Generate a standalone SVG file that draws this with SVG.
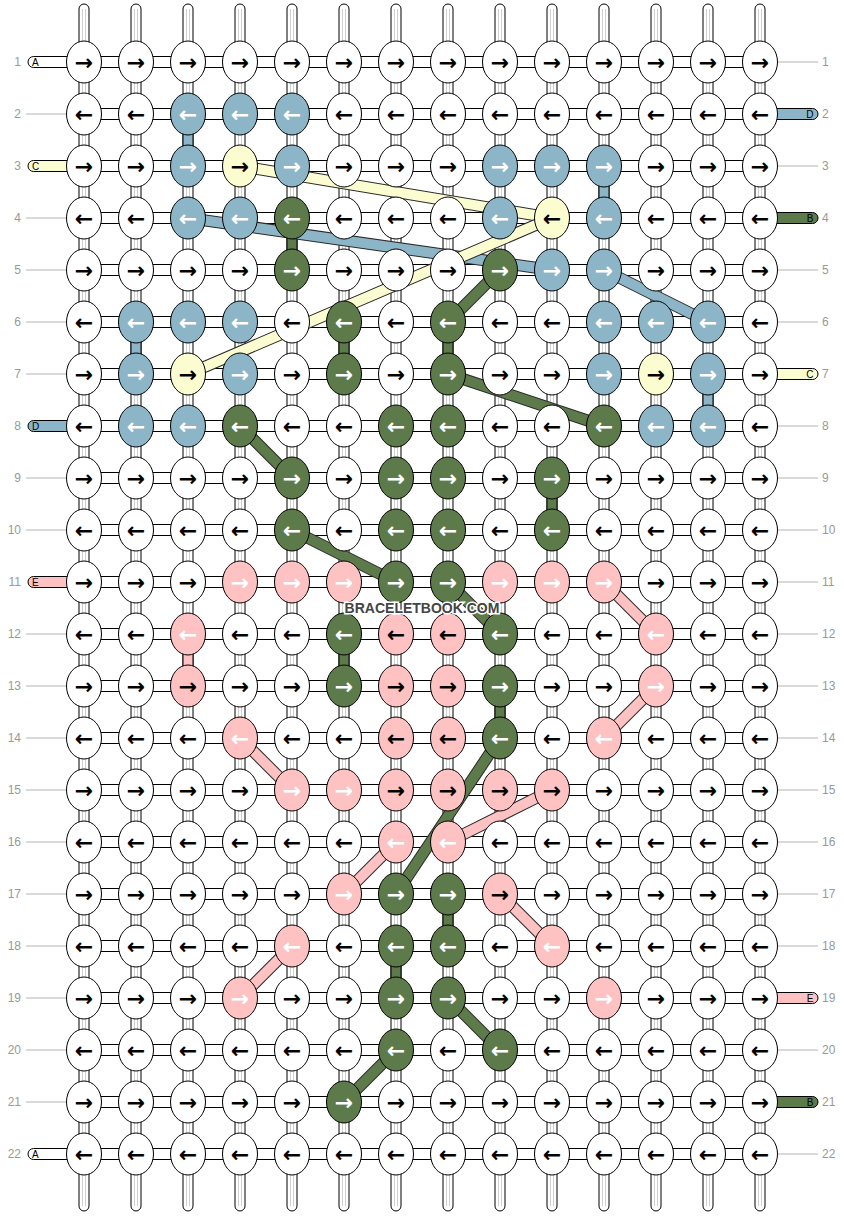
<svg xmlns="http://www.w3.org/2000/svg" xmlns:xlink="http://www.w3.org/1999/xlink" width="844" height="1216" viewBox="0 0 844 1216">
<style>
.w{fill:#fff}.b{fill:#8cb5c7}.g{fill:#5d7a4a}.y{fill:#fbfdd0}.p{fill:#ffc2c2}
.a{font:bold 22px "DejaVu Sans",sans-serif;text-anchor:middle;fill:#000}
.aw{fill:#fff}
.s{stroke:#000;stroke-width:1}
.gl{stroke:#cfcfcf;stroke-width:1}
.n{font:12px "Liberation Sans",Arial,sans-serif;fill:#999}
.ne{text-anchor:end}
.t{font:10px "Liberation Sans",Arial,sans-serif;fill:#000}
.ln{stroke:#b4b4b4;stroke-width:1}
.bo{stroke:#2a2a2a;stroke-width:12}
.bb{stroke:#8cb5c7;stroke-width:10}.bg{stroke:#5d7a4a;stroke-width:10}.by{stroke:#fbfdd0;stroke-width:10}.bp{stroke:#ffc2c2;stroke-width:10}
.wm{font:bold 14px "Liberation Sans",Arial,sans-serif;fill:#444;stroke:#fff;stroke-width:3;paint-order:stroke;text-anchor:middle}
</style>
<defs>
<ellipse id="e" rx="17.5" ry="21" stroke="#000" stroke-width="1"/>
<g id="vs"><rect x="-5" y="4" width="10" height="1207" rx="5" fill="#fff" stroke="#000"/><path d="M-1.5 9V1206M1.5 9V1206" class="gl"/></g>
</defs>
<g id="connectors">
<g id="verticals">
<use href="#vs" x="84"/><use href="#vs" x="136"/><use href="#vs" x="188"/><use href="#vs" x="240"/><use href="#vs" x="292"/><use href="#vs" x="344"/><use href="#vs" x="396"/><use href="#vs" x="448"/><use href="#vs" x="500"/><use href="#vs" x="552"/><use href="#vs" x="604"/><use href="#vs" x="656"/><use href="#vs" x="708"/><use href="#vs" x="760"/>
</g>
<g id="horizontals" class="w s">
<rect x="84" y="56.5" width="676" height="11"/><rect x="84" y="108.5" width="676" height="11"/><rect x="84" y="160.5" width="676" height="11"/><rect x="84" y="212.5" width="676" height="11"/><rect x="84" y="264.5" width="676" height="11"/><rect x="84" y="316.5" width="676" height="11"/><rect x="84" y="368.5" width="676" height="11"/><rect x="84" y="420.5" width="676" height="11"/><rect x="84" y="472.5" width="676" height="11"/><rect x="84" y="524.5" width="676" height="11"/><rect x="84" y="576.5" width="676" height="11"/><rect x="84" y="628.5" width="676" height="11"/><rect x="84" y="680.5" width="676" height="11"/><rect x="84" y="732.5" width="676" height="11"/><rect x="84" y="784.5" width="676" height="11"/><rect x="84" y="836.5" width="676" height="11"/><rect x="84" y="888.5" width="676" height="11"/><rect x="84" y="940.5" width="676" height="11"/><rect x="84" y="992.5" width="676" height="11"/><rect x="84" y="1044.5" width="676" height="11"/><rect x="84" y="1096.5" width="676" height="11"/><rect x="84" y="1148.5" width="676" height="11"/>
</g>
<g id="tails" class="s">
<path class="w" d="M70 56.5H33.5a5.5 5.5 0 0 0 0 11H70Z"/>
<path class="y" d="M70 160.5H33.5a5.5 5.5 0 0 0 0 11H70Z"/>
<path class="b" d="M70 420.5H33.5a5.5 5.5 0 0 0 0 11H70Z"/>
<path class="p" d="M70 576.5H33.5a5.5 5.5 0 0 0 0 11H70Z"/>
<path class="w" d="M70 1148.5H33.5a5.5 5.5 0 0 0 0 11H70Z"/>
<path class="b" d="M774 108.5H812.5a5.5 5.5 0 0 1 0 11H774Z"/>
<path class="g" d="M774 212.5H812.5a5.5 5.5 0 0 1 0 11H774Z"/>
<path class="y" d="M774 368.5H812.5a5.5 5.5 0 0 1 0 11H774Z"/>
<path class="p" d="M774 992.5H812.5a5.5 5.5 0 0 1 0 11H774Z"/>
<path class="g" d="M774 1096.5H812.5a5.5 5.5 0 0 1 0 11H774Z"/>
</g>
<g id="tail-letters" class="t">
<text x="32" y="66">A</text><text x="32" y="170">C</text><text x="32" y="430">D</text><text x="32" y="586">E</text><text x="32" y="1158">A</text>
<text x="813.5" y="118" text-anchor="end">D</text><text x="813.5" y="222" text-anchor="end">B</text><text x="813.5" y="378" text-anchor="end">C</text><text x="813.5" y="1002" text-anchor="end">E</text><text x="813.5" y="1106" text-anchor="end">B</text>
</g>
<path id="rowlines" class="ln" d="M26 114H66M26 218H66M26 270H66M26 322H66M26 374H66M26 478H66M26 530H66M26 634H66M26 686H66M26 738H66M26 790H66M26 842H66M26 894H66M26 946H66M26 998H66M26 1050H66M26 1102H66M778 62H818M778 166H818M778 270H818M778 322H818M778 426H818M778 478H818M778 530H818M778 582H818M778 634H818M778 686H818M778 738H818M778 790H818M778 842H818M778 894H818M778 946H818M778 1050H818M778 1154H818"/>
<g id="straight" class="s">
<rect class="b" x="183" y="114" width="10" height="52"/>
<rect class="b" x="599" y="166" width="10" height="52"/>
<rect class="g" x="287" y="218" width="10" height="52"/>
<rect class="b" x="131" y="322" width="10" height="52"/>
<rect class="g" x="339" y="322" width="10" height="52"/>
<rect class="g" x="443" y="322" width="10" height="52"/>
<rect class="b" x="703" y="374" width="10" height="52"/>
<rect class="g" x="547" y="478" width="10" height="52"/>
<rect class="p" x="183" y="634" width="10" height="52"/>
<rect class="g" x="339" y="634" width="10" height="52"/>
<rect class="g" x="495" y="686" width="10" height="52"/>
<rect class="g" x="443" y="894" width="10" height="52"/>
<rect class="g" x="391" y="946" width="10" height="52"/>
</g>
<g id="bands">
<line class="bo" x1="240" y1="166" x2="552" y2="218"/><line class="by" x1="240" y1="166" x2="552" y2="218"/>
<line class="bo" x1="188" y1="218" x2="552" y2="270"/><line class="bb" x1="188" y1="218" x2="552" y2="270"/>
<line class="bo" x1="552" y1="218" x2="188" y2="374"/><line class="by" x1="552" y1="218" x2="188" y2="374"/>
<line class="bo" x1="604" y1="270" x2="708" y2="322"/><line class="bb" x1="604" y1="270" x2="708" y2="322"/>
<line class="bo" x1="500" y1="270" x2="448" y2="322"/><line class="bg" x1="500" y1="270" x2="448" y2="322"/>
<line class="bo" x1="448" y1="374" x2="604" y2="426"/><line class="bg" x1="448" y1="374" x2="604" y2="426"/>
<line class="bo" x1="240" y1="426" x2="292" y2="478"/><line class="bg" x1="240" y1="426" x2="292" y2="478"/>
<line class="bo" x1="292" y1="530" x2="396" y2="582"/><line class="bg" x1="292" y1="530" x2="396" y2="582"/>
<line class="bo" x1="448" y1="582" x2="500" y2="634"/><line class="bg" x1="448" y1="582" x2="500" y2="634"/>
<line class="bo" x1="500" y1="738" x2="396" y2="894"/><line class="bg" x1="500" y1="738" x2="396" y2="894"/>
<line class="bo" x1="448" y1="998" x2="500" y2="1050"/><line class="bg" x1="448" y1="998" x2="500" y2="1050"/>
<line class="bo" x1="396" y1="1050" x2="344" y2="1102"/><line class="bg" x1="396" y1="1050" x2="344" y2="1102"/>
<line class="bo" x1="604" y1="582" x2="656" y2="634"/><line class="bp" x1="604" y1="582" x2="656" y2="634"/>
<line class="bo" x1="656" y1="686" x2="604" y2="738"/><line class="bp" x1="656" y1="686" x2="604" y2="738"/>
<line class="bo" x1="240" y1="738" x2="292" y2="790"/><line class="bp" x1="240" y1="738" x2="292" y2="790"/>
<line class="bo" x1="552" y1="790" x2="448" y2="842"/><line class="bp" x1="552" y1="790" x2="448" y2="842"/>
<line class="bo" x1="396" y1="842" x2="344" y2="894"/><line class="bp" x1="396" y1="842" x2="344" y2="894"/>
<line class="bo" x1="500" y1="894" x2="552" y2="946"/><line class="bp" x1="500" y1="894" x2="552" y2="946"/>
<line class="bo" x1="292" y1="946" x2="240" y2="998"/><line class="bp" x1="292" y1="946" x2="240" y2="998"/>
</g>
</g>
<g id="row-numbers" class="n">
<text class="n ne" x="21" y="66">1</text><text class="n ne" x="21" y="118">2</text><text class="n ne" x="21" y="170">3</text><text class="n ne" x="21" y="222">4</text><text class="n ne" x="21" y="274">5</text><text class="n ne" x="21" y="326">6</text><text class="n ne" x="21" y="378">7</text><text class="n ne" x="21" y="430">8</text><text class="n ne" x="21" y="482">9</text><text class="n ne" x="21" y="534">10</text><text class="n ne" x="21" y="586">11</text><text class="n ne" x="21" y="638">12</text><text class="n ne" x="21" y="690">13</text><text class="n ne" x="21" y="742">14</text><text class="n ne" x="21" y="794">15</text><text class="n ne" x="21" y="846">16</text><text class="n ne" x="21" y="898">17</text><text class="n ne" x="21" y="950">18</text><text class="n ne" x="21" y="1002">19</text><text class="n ne" x="21" y="1054">20</text><text class="n ne" x="21" y="1106">21</text><text class="n ne" x="21" y="1158">22</text>
<text x="822" y="66">1</text><text x="822" y="118">2</text><text x="822" y="170">3</text><text x="822" y="222">4</text><text x="822" y="274">5</text><text x="822" y="326">6</text><text x="822" y="378">7</text><text x="822" y="430">8</text><text x="822" y="482">9</text><text x="822" y="534">10</text><text x="822" y="586">11</text><text x="822" y="638">12</text><text x="822" y="690">13</text><text x="822" y="742">14</text><text x="822" y="794">15</text><text x="822" y="846">16</text><text x="822" y="898">17</text><text x="822" y="950">18</text><text x="822" y="1002">19</text><text x="822" y="1054">20</text><text x="822" y="1106">21</text><text x="822" y="1158">22</text>
</g>
<g id="knots">
<g id="k1-1" transform="translate(84,62)"><use href="#e" class="w"/><text class="a" y="7.5">→</text></g>
<g id="k1-2" transform="translate(136,62)"><use href="#e" class="w"/><text class="a" y="7.5">→</text></g>
<g id="k1-3" transform="translate(188,62)"><use href="#e" class="w"/><text class="a" y="7.5">→</text></g>
<g id="k1-4" transform="translate(240,62)"><use href="#e" class="w"/><text class="a" y="7.5">→</text></g>
<g id="k1-5" transform="translate(292,62)"><use href="#e" class="w"/><text class="a" y="7.5">→</text></g>
<g id="k1-6" transform="translate(344,62)"><use href="#e" class="w"/><text class="a" y="7.5">→</text></g>
<g id="k1-7" transform="translate(396,62)"><use href="#e" class="w"/><text class="a" y="7.5">→</text></g>
<g id="k1-8" transform="translate(448,62)"><use href="#e" class="w"/><text class="a" y="7.5">→</text></g>
<g id="k1-9" transform="translate(500,62)"><use href="#e" class="w"/><text class="a" y="7.5">→</text></g>
<g id="k1-10" transform="translate(552,62)"><use href="#e" class="w"/><text class="a" y="7.5">→</text></g>
<g id="k1-11" transform="translate(604,62)"><use href="#e" class="w"/><text class="a" y="7.5">→</text></g>
<g id="k1-12" transform="translate(656,62)"><use href="#e" class="w"/><text class="a" y="7.5">→</text></g>
<g id="k1-13" transform="translate(708,62)"><use href="#e" class="w"/><text class="a" y="7.5">→</text></g>
<g id="k1-14" transform="translate(760,62)"><use href="#e" class="w"/><text class="a" y="7.5">→</text></g>

<g id="k2-1" transform="translate(84,114)"><use href="#e" class="w"/><text class="a" y="7.5">←</text></g>
<g id="k2-2" transform="translate(136,114)"><use href="#e" class="w"/><text class="a" y="7.5">←</text></g>
<g id="k2-3" transform="translate(188,114)"><use href="#e" class="b"/><text class="a aw" y="7.5">←</text></g>
<g id="k2-4" transform="translate(240,114)"><use href="#e" class="b"/><text class="a aw" y="7.5">←</text></g>
<g id="k2-5" transform="translate(292,114)"><use href="#e" class="b"/><text class="a aw" y="7.5">←</text></g>
<g id="k2-6" transform="translate(344,114)"><use href="#e" class="w"/><text class="a" y="7.5">←</text></g>
<g id="k2-7" transform="translate(396,114)"><use href="#e" class="w"/><text class="a" y="7.5">←</text></g>
<g id="k2-8" transform="translate(448,114)"><use href="#e" class="w"/><text class="a" y="7.5">←</text></g>
<g id="k2-9" transform="translate(500,114)"><use href="#e" class="w"/><text class="a" y="7.5">←</text></g>
<g id="k2-10" transform="translate(552,114)"><use href="#e" class="w"/><text class="a" y="7.5">←</text></g>
<g id="k2-11" transform="translate(604,114)"><use href="#e" class="w"/><text class="a" y="7.5">←</text></g>
<g id="k2-12" transform="translate(656,114)"><use href="#e" class="w"/><text class="a" y="7.5">←</text></g>
<g id="k2-13" transform="translate(708,114)"><use href="#e" class="w"/><text class="a" y="7.5">←</text></g>
<g id="k2-14" transform="translate(760,114)"><use href="#e" class="w"/><text class="a" y="7.5">←</text></g>

<g id="k3-1" transform="translate(84,166)"><use href="#e" class="w"/><text class="a" y="7.5">→</text></g>
<g id="k3-2" transform="translate(136,166)"><use href="#e" class="w"/><text class="a" y="7.5">→</text></g>
<g id="k3-3" transform="translate(188,166)"><use href="#e" class="b"/><text class="a aw" y="7.5">→</text></g>
<g id="k3-4" transform="translate(240,166)"><use href="#e" class="y"/><text class="a" y="7.5">→</text></g>
<g id="k3-5" transform="translate(292,166)"><use href="#e" class="b"/><text class="a aw" y="7.5">→</text></g>
<g id="k3-6" transform="translate(344,166)"><use href="#e" class="w"/><text class="a" y="7.5">→</text></g>
<g id="k3-7" transform="translate(396,166)"><use href="#e" class="w"/><text class="a" y="7.5">→</text></g>
<g id="k3-8" transform="translate(448,166)"><use href="#e" class="w"/><text class="a" y="7.5">→</text></g>
<g id="k3-9" transform="translate(500,166)"><use href="#e" class="b"/><text class="a aw" y="7.5">→</text></g>
<g id="k3-10" transform="translate(552,166)"><use href="#e" class="b"/><text class="a aw" y="7.5">→</text></g>
<g id="k3-11" transform="translate(604,166)"><use href="#e" class="b"/><text class="a aw" y="7.5">→</text></g>
<g id="k3-12" transform="translate(656,166)"><use href="#e" class="w"/><text class="a" y="7.5">→</text></g>
<g id="k3-13" transform="translate(708,166)"><use href="#e" class="w"/><text class="a" y="7.5">→</text></g>
<g id="k3-14" transform="translate(760,166)"><use href="#e" class="w"/><text class="a" y="7.5">→</text></g>

<g id="k4-1" transform="translate(84,218)"><use href="#e" class="w"/><text class="a" y="7.5">←</text></g>
<g id="k4-2" transform="translate(136,218)"><use href="#e" class="w"/><text class="a" y="7.5">←</text></g>
<g id="k4-3" transform="translate(188,218)"><use href="#e" class="b"/><text class="a aw" y="7.5">←</text></g>
<g id="k4-4" transform="translate(240,218)"><use href="#e" class="b"/><text class="a aw" y="7.5">←</text></g>
<g id="k4-5" transform="translate(292,218)"><use href="#e" class="g"/><text class="a aw" y="7.5">←</text></g>
<g id="k4-6" transform="translate(344,218)"><use href="#e" class="w"/><text class="a" y="7.5">←</text></g>
<g id="k4-7" transform="translate(396,218)"><use href="#e" class="w"/><text class="a" y="7.5">←</text></g>
<g id="k4-8" transform="translate(448,218)"><use href="#e" class="w"/><text class="a" y="7.5">←</text></g>
<g id="k4-9" transform="translate(500,218)"><use href="#e" class="b"/><text class="a aw" y="7.5">←</text></g>
<g id="k4-10" transform="translate(552,218)"><use href="#e" class="y"/><text class="a" y="7.5">←</text></g>
<g id="k4-11" transform="translate(604,218)"><use href="#e" class="b"/><text class="a aw" y="7.5">←</text></g>
<g id="k4-12" transform="translate(656,218)"><use href="#e" class="w"/><text class="a" y="7.5">←</text></g>
<g id="k4-13" transform="translate(708,218)"><use href="#e" class="w"/><text class="a" y="7.5">←</text></g>
<g id="k4-14" transform="translate(760,218)"><use href="#e" class="w"/><text class="a" y="7.5">←</text></g>

<g id="k5-1" transform="translate(84,270)"><use href="#e" class="w"/><text class="a" y="7.5">→</text></g>
<g id="k5-2" transform="translate(136,270)"><use href="#e" class="w"/><text class="a" y="7.5">→</text></g>
<g id="k5-3" transform="translate(188,270)"><use href="#e" class="w"/><text class="a" y="7.5">→</text></g>
<g id="k5-4" transform="translate(240,270)"><use href="#e" class="w"/><text class="a" y="7.5">→</text></g>
<g id="k5-5" transform="translate(292,270)"><use href="#e" class="g"/><text class="a aw" y="7.5">→</text></g>
<g id="k5-6" transform="translate(344,270)"><use href="#e" class="w"/><text class="a" y="7.5">→</text></g>
<g id="k5-7" transform="translate(396,270)"><use href="#e" class="w"/><text class="a" y="7.5">→</text></g>
<g id="k5-8" transform="translate(448,270)"><use href="#e" class="w"/><text class="a" y="7.5">→</text></g>
<g id="k5-9" transform="translate(500,270)"><use href="#e" class="g"/><text class="a aw" y="7.5">→</text></g>
<g id="k5-10" transform="translate(552,270)"><use href="#e" class="b"/><text class="a aw" y="7.5">→</text></g>
<g id="k5-11" transform="translate(604,270)"><use href="#e" class="b"/><text class="a aw" y="7.5">→</text></g>
<g id="k5-12" transform="translate(656,270)"><use href="#e" class="w"/><text class="a" y="7.5">→</text></g>
<g id="k5-13" transform="translate(708,270)"><use href="#e" class="w"/><text class="a" y="7.5">→</text></g>
<g id="k5-14" transform="translate(760,270)"><use href="#e" class="w"/><text class="a" y="7.5">→</text></g>

<g id="k6-1" transform="translate(84,322)"><use href="#e" class="w"/><text class="a" y="7.5">←</text></g>
<g id="k6-2" transform="translate(136,322)"><use href="#e" class="b"/><text class="a aw" y="7.5">←</text></g>
<g id="k6-3" transform="translate(188,322)"><use href="#e" class="b"/><text class="a aw" y="7.5">←</text></g>
<g id="k6-4" transform="translate(240,322)"><use href="#e" class="b"/><text class="a aw" y="7.5">←</text></g>
<g id="k6-5" transform="translate(292,322)"><use href="#e" class="w"/><text class="a" y="7.5">←</text></g>
<g id="k6-6" transform="translate(344,322)"><use href="#e" class="g"/><text class="a aw" y="7.5">←</text></g>
<g id="k6-7" transform="translate(396,322)"><use href="#e" class="w"/><text class="a" y="7.5">←</text></g>
<g id="k6-8" transform="translate(448,322)"><use href="#e" class="g"/><text class="a aw" y="7.5">←</text></g>
<g id="k6-9" transform="translate(500,322)"><use href="#e" class="w"/><text class="a" y="7.5">←</text></g>
<g id="k6-10" transform="translate(552,322)"><use href="#e" class="w"/><text class="a" y="7.5">←</text></g>
<g id="k6-11" transform="translate(604,322)"><use href="#e" class="b"/><text class="a aw" y="7.5">←</text></g>
<g id="k6-12" transform="translate(656,322)"><use href="#e" class="b"/><text class="a aw" y="7.5">←</text></g>
<g id="k6-13" transform="translate(708,322)"><use href="#e" class="b"/><text class="a aw" y="7.5">←</text></g>
<g id="k6-14" transform="translate(760,322)"><use href="#e" class="w"/><text class="a" y="7.5">←</text></g>

<g id="k7-1" transform="translate(84,374)"><use href="#e" class="w"/><text class="a" y="7.5">→</text></g>
<g id="k7-2" transform="translate(136,374)"><use href="#e" class="b"/><text class="a aw" y="7.5">→</text></g>
<g id="k7-3" transform="translate(188,374)"><use href="#e" class="y"/><text class="a" y="7.5">→</text></g>
<g id="k7-4" transform="translate(240,374)"><use href="#e" class="b"/><text class="a aw" y="7.5">→</text></g>
<g id="k7-5" transform="translate(292,374)"><use href="#e" class="w"/><text class="a" y="7.5">→</text></g>
<g id="k7-6" transform="translate(344,374)"><use href="#e" class="g"/><text class="a aw" y="7.5">→</text></g>
<g id="k7-7" transform="translate(396,374)"><use href="#e" class="w"/><text class="a" y="7.5">→</text></g>
<g id="k7-8" transform="translate(448,374)"><use href="#e" class="g"/><text class="a aw" y="7.5">→</text></g>
<g id="k7-9" transform="translate(500,374)"><use href="#e" class="w"/><text class="a" y="7.5">→</text></g>
<g id="k7-10" transform="translate(552,374)"><use href="#e" class="w"/><text class="a" y="7.5">→</text></g>
<g id="k7-11" transform="translate(604,374)"><use href="#e" class="b"/><text class="a aw" y="7.5">→</text></g>
<g id="k7-12" transform="translate(656,374)"><use href="#e" class="y"/><text class="a" y="7.5">→</text></g>
<g id="k7-13" transform="translate(708,374)"><use href="#e" class="b"/><text class="a aw" y="7.5">→</text></g>
<g id="k7-14" transform="translate(760,374)"><use href="#e" class="w"/><text class="a" y="7.5">→</text></g>

<g id="k8-1" transform="translate(84,426)"><use href="#e" class="w"/><text class="a" y="7.5">←</text></g>
<g id="k8-2" transform="translate(136,426)"><use href="#e" class="b"/><text class="a aw" y="7.5">←</text></g>
<g id="k8-3" transform="translate(188,426)"><use href="#e" class="b"/><text class="a aw" y="7.5">←</text></g>
<g id="k8-4" transform="translate(240,426)"><use href="#e" class="g"/><text class="a aw" y="7.5">←</text></g>
<g id="k8-5" transform="translate(292,426)"><use href="#e" class="w"/><text class="a" y="7.5">←</text></g>
<g id="k8-6" transform="translate(344,426)"><use href="#e" class="w"/><text class="a" y="7.5">←</text></g>
<g id="k8-7" transform="translate(396,426)"><use href="#e" class="g"/><text class="a aw" y="7.5">←</text></g>
<g id="k8-8" transform="translate(448,426)"><use href="#e" class="g"/><text class="a aw" y="7.5">←</text></g>
<g id="k8-9" transform="translate(500,426)"><use href="#e" class="w"/><text class="a" y="7.5">←</text></g>
<g id="k8-10" transform="translate(552,426)"><use href="#e" class="w"/><text class="a" y="7.5">←</text></g>
<g id="k8-11" transform="translate(604,426)"><use href="#e" class="g"/><text class="a aw" y="7.5">←</text></g>
<g id="k8-12" transform="translate(656,426)"><use href="#e" class="b"/><text class="a aw" y="7.5">←</text></g>
<g id="k8-13" transform="translate(708,426)"><use href="#e" class="b"/><text class="a aw" y="7.5">←</text></g>
<g id="k8-14" transform="translate(760,426)"><use href="#e" class="w"/><text class="a" y="7.5">←</text></g>

<g id="k9-1" transform="translate(84,478)"><use href="#e" class="w"/><text class="a" y="7.5">→</text></g>
<g id="k9-2" transform="translate(136,478)"><use href="#e" class="w"/><text class="a" y="7.5">→</text></g>
<g id="k9-3" transform="translate(188,478)"><use href="#e" class="w"/><text class="a" y="7.5">→</text></g>
<g id="k9-4" transform="translate(240,478)"><use href="#e" class="w"/><text class="a" y="7.5">→</text></g>
<g id="k9-5" transform="translate(292,478)"><use href="#e" class="g"/><text class="a aw" y="7.5">→</text></g>
<g id="k9-6" transform="translate(344,478)"><use href="#e" class="w"/><text class="a" y="7.5">→</text></g>
<g id="k9-7" transform="translate(396,478)"><use href="#e" class="g"/><text class="a aw" y="7.5">→</text></g>
<g id="k9-8" transform="translate(448,478)"><use href="#e" class="g"/><text class="a aw" y="7.5">→</text></g>
<g id="k9-9" transform="translate(500,478)"><use href="#e" class="w"/><text class="a" y="7.5">→</text></g>
<g id="k9-10" transform="translate(552,478)"><use href="#e" class="g"/><text class="a aw" y="7.5">→</text></g>
<g id="k9-11" transform="translate(604,478)"><use href="#e" class="w"/><text class="a" y="7.5">→</text></g>
<g id="k9-12" transform="translate(656,478)"><use href="#e" class="w"/><text class="a" y="7.5">→</text></g>
<g id="k9-13" transform="translate(708,478)"><use href="#e" class="w"/><text class="a" y="7.5">→</text></g>
<g id="k9-14" transform="translate(760,478)"><use href="#e" class="w"/><text class="a" y="7.5">→</text></g>

<g id="k10-1" transform="translate(84,530)"><use href="#e" class="w"/><text class="a" y="7.5">←</text></g>
<g id="k10-2" transform="translate(136,530)"><use href="#e" class="w"/><text class="a" y="7.5">←</text></g>
<g id="k10-3" transform="translate(188,530)"><use href="#e" class="w"/><text class="a" y="7.5">←</text></g>
<g id="k10-4" transform="translate(240,530)"><use href="#e" class="w"/><text class="a" y="7.5">←</text></g>
<g id="k10-5" transform="translate(292,530)"><use href="#e" class="g"/><text class="a aw" y="7.5">←</text></g>
<g id="k10-6" transform="translate(344,530)"><use href="#e" class="w"/><text class="a" y="7.5">←</text></g>
<g id="k10-7" transform="translate(396,530)"><use href="#e" class="g"/><text class="a aw" y="7.5">←</text></g>
<g id="k10-8" transform="translate(448,530)"><use href="#e" class="g"/><text class="a aw" y="7.5">←</text></g>
<g id="k10-9" transform="translate(500,530)"><use href="#e" class="w"/><text class="a" y="7.5">←</text></g>
<g id="k10-10" transform="translate(552,530)"><use href="#e" class="g"/><text class="a aw" y="7.5">←</text></g>
<g id="k10-11" transform="translate(604,530)"><use href="#e" class="w"/><text class="a" y="7.5">←</text></g>
<g id="k10-12" transform="translate(656,530)"><use href="#e" class="w"/><text class="a" y="7.5">←</text></g>
<g id="k10-13" transform="translate(708,530)"><use href="#e" class="w"/><text class="a" y="7.5">←</text></g>
<g id="k10-14" transform="translate(760,530)"><use href="#e" class="w"/><text class="a" y="7.5">←</text></g>

<g id="k11-1" transform="translate(84,582)"><use href="#e" class="w"/><text class="a" y="7.5">→</text></g>
<g id="k11-2" transform="translate(136,582)"><use href="#e" class="w"/><text class="a" y="7.5">→</text></g>
<g id="k11-3" transform="translate(188,582)"><use href="#e" class="w"/><text class="a" y="7.5">→</text></g>
<g id="k11-4" transform="translate(240,582)"><use href="#e" class="p"/><text class="a aw" y="7.5">→</text></g>
<g id="k11-5" transform="translate(292,582)"><use href="#e" class="p"/><text class="a aw" y="7.5">→</text></g>
<g id="k11-6" transform="translate(344,582)"><use href="#e" class="p"/><text class="a aw" y="7.5">→</text></g>
<g id="k11-7" transform="translate(396,582)"><use href="#e" class="g"/><text class="a aw" y="7.5">→</text></g>
<g id="k11-8" transform="translate(448,582)"><use href="#e" class="g"/><text class="a aw" y="7.5">→</text></g>
<g id="k11-9" transform="translate(500,582)"><use href="#e" class="p"/><text class="a aw" y="7.5">→</text></g>
<g id="k11-10" transform="translate(552,582)"><use href="#e" class="p"/><text class="a aw" y="7.5">→</text></g>
<g id="k11-11" transform="translate(604,582)"><use href="#e" class="p"/><text class="a aw" y="7.5">→</text></g>
<g id="k11-12" transform="translate(656,582)"><use href="#e" class="w"/><text class="a" y="7.5">→</text></g>
<g id="k11-13" transform="translate(708,582)"><use href="#e" class="w"/><text class="a" y="7.5">→</text></g>
<g id="k11-14" transform="translate(760,582)"><use href="#e" class="w"/><text class="a" y="7.5">→</text></g>

<g id="k12-1" transform="translate(84,634)"><use href="#e" class="w"/><text class="a" y="7.5">←</text></g>
<g id="k12-2" transform="translate(136,634)"><use href="#e" class="w"/><text class="a" y="7.5">←</text></g>
<g id="k12-3" transform="translate(188,634)"><use href="#e" class="p"/><text class="a aw" y="7.5">←</text></g>
<g id="k12-4" transform="translate(240,634)"><use href="#e" class="w"/><text class="a" y="7.5">←</text></g>
<g id="k12-5" transform="translate(292,634)"><use href="#e" class="w"/><text class="a" y="7.5">←</text></g>
<g id="k12-6" transform="translate(344,634)"><use href="#e" class="g"/><text class="a aw" y="7.5">←</text></g>
<g id="k12-7" transform="translate(396,634)"><use href="#e" class="p"/><text class="a" y="7.5">←</text></g>
<g id="k12-8" transform="translate(448,634)"><use href="#e" class="p"/><text class="a" y="7.5">←</text></g>
<g id="k12-9" transform="translate(500,634)"><use href="#e" class="g"/><text class="a aw" y="7.5">←</text></g>
<g id="k12-10" transform="translate(552,634)"><use href="#e" class="w"/><text class="a" y="7.5">←</text></g>
<g id="k12-11" transform="translate(604,634)"><use href="#e" class="w"/><text class="a" y="7.5">←</text></g>
<g id="k12-12" transform="translate(656,634)"><use href="#e" class="p"/><text class="a aw" y="7.5">←</text></g>
<g id="k12-13" transform="translate(708,634)"><use href="#e" class="w"/><text class="a" y="7.5">←</text></g>
<g id="k12-14" transform="translate(760,634)"><use href="#e" class="w"/><text class="a" y="7.5">←</text></g>

<g id="k13-1" transform="translate(84,686)"><use href="#e" class="w"/><text class="a" y="7.5">→</text></g>
<g id="k13-2" transform="translate(136,686)"><use href="#e" class="w"/><text class="a" y="7.5">→</text></g>
<g id="k13-3" transform="translate(188,686)"><use href="#e" class="p"/><text class="a" y="7.5">→</text></g>
<g id="k13-4" transform="translate(240,686)"><use href="#e" class="w"/><text class="a" y="7.5">→</text></g>
<g id="k13-5" transform="translate(292,686)"><use href="#e" class="w"/><text class="a" y="7.5">→</text></g>
<g id="k13-6" transform="translate(344,686)"><use href="#e" class="g"/><text class="a aw" y="7.5">→</text></g>
<g id="k13-7" transform="translate(396,686)"><use href="#e" class="p"/><text class="a" y="7.5">→</text></g>
<g id="k13-8" transform="translate(448,686)"><use href="#e" class="p"/><text class="a" y="7.5">→</text></g>
<g id="k13-9" transform="translate(500,686)"><use href="#e" class="g"/><text class="a aw" y="7.5">→</text></g>
<g id="k13-10" transform="translate(552,686)"><use href="#e" class="w"/><text class="a" y="7.5">→</text></g>
<g id="k13-11" transform="translate(604,686)"><use href="#e" class="w"/><text class="a" y="7.5">→</text></g>
<g id="k13-12" transform="translate(656,686)"><use href="#e" class="p"/><text class="a aw" y="7.5">→</text></g>
<g id="k13-13" transform="translate(708,686)"><use href="#e" class="w"/><text class="a" y="7.5">→</text></g>
<g id="k13-14" transform="translate(760,686)"><use href="#e" class="w"/><text class="a" y="7.5">→</text></g>

<g id="k14-1" transform="translate(84,738)"><use href="#e" class="w"/><text class="a" y="7.5">←</text></g>
<g id="k14-2" transform="translate(136,738)"><use href="#e" class="w"/><text class="a" y="7.5">←</text></g>
<g id="k14-3" transform="translate(188,738)"><use href="#e" class="w"/><text class="a" y="7.5">←</text></g>
<g id="k14-4" transform="translate(240,738)"><use href="#e" class="p"/><text class="a aw" y="7.5">←</text></g>
<g id="k14-5" transform="translate(292,738)"><use href="#e" class="w"/><text class="a" y="7.5">←</text></g>
<g id="k14-6" transform="translate(344,738)"><use href="#e" class="w"/><text class="a" y="7.5">←</text></g>
<g id="k14-7" transform="translate(396,738)"><use href="#e" class="p"/><text class="a" y="7.5">←</text></g>
<g id="k14-8" transform="translate(448,738)"><use href="#e" class="p"/><text class="a" y="7.5">←</text></g>
<g id="k14-9" transform="translate(500,738)"><use href="#e" class="g"/><text class="a aw" y="7.5">←</text></g>
<g id="k14-10" transform="translate(552,738)"><use href="#e" class="w"/><text class="a" y="7.5">←</text></g>
<g id="k14-11" transform="translate(604,738)"><use href="#e" class="p"/><text class="a aw" y="7.5">←</text></g>
<g id="k14-12" transform="translate(656,738)"><use href="#e" class="w"/><text class="a" y="7.5">←</text></g>
<g id="k14-13" transform="translate(708,738)"><use href="#e" class="w"/><text class="a" y="7.5">←</text></g>
<g id="k14-14" transform="translate(760,738)"><use href="#e" class="w"/><text class="a" y="7.5">←</text></g>

<g id="k15-1" transform="translate(84,790)"><use href="#e" class="w"/><text class="a" y="7.5">→</text></g>
<g id="k15-2" transform="translate(136,790)"><use href="#e" class="w"/><text class="a" y="7.5">→</text></g>
<g id="k15-3" transform="translate(188,790)"><use href="#e" class="w"/><text class="a" y="7.5">→</text></g>
<g id="k15-4" transform="translate(240,790)"><use href="#e" class="w"/><text class="a" y="7.5">→</text></g>
<g id="k15-5" transform="translate(292,790)"><use href="#e" class="p"/><text class="a aw" y="7.5">→</text></g>
<g id="k15-6" transform="translate(344,790)"><use href="#e" class="p"/><text class="a aw" y="7.5">→</text></g>
<g id="k15-7" transform="translate(396,790)"><use href="#e" class="p"/><text class="a" y="7.5">→</text></g>
<g id="k15-8" transform="translate(448,790)"><use href="#e" class="p"/><text class="a" y="7.5">→</text></g>
<g id="k15-9" transform="translate(500,790)"><use href="#e" class="p"/><text class="a" y="7.5">→</text></g>
<g id="k15-10" transform="translate(552,790)"><use href="#e" class="p"/><text class="a" y="7.5">→</text></g>
<g id="k15-11" transform="translate(604,790)"><use href="#e" class="w"/><text class="a" y="7.5">→</text></g>
<g id="k15-12" transform="translate(656,790)"><use href="#e" class="w"/><text class="a" y="7.5">→</text></g>
<g id="k15-13" transform="translate(708,790)"><use href="#e" class="w"/><text class="a" y="7.5">→</text></g>
<g id="k15-14" transform="translate(760,790)"><use href="#e" class="w"/><text class="a" y="7.5">→</text></g>

<g id="k16-1" transform="translate(84,842)"><use href="#e" class="w"/><text class="a" y="7.5">←</text></g>
<g id="k16-2" transform="translate(136,842)"><use href="#e" class="w"/><text class="a" y="7.5">←</text></g>
<g id="k16-3" transform="translate(188,842)"><use href="#e" class="w"/><text class="a" y="7.5">←</text></g>
<g id="k16-4" transform="translate(240,842)"><use href="#e" class="w"/><text class="a" y="7.5">←</text></g>
<g id="k16-5" transform="translate(292,842)"><use href="#e" class="w"/><text class="a" y="7.5">←</text></g>
<g id="k16-6" transform="translate(344,842)"><use href="#e" class="w"/><text class="a" y="7.5">←</text></g>
<g id="k16-7" transform="translate(396,842)"><use href="#e" class="p"/><text class="a aw" y="7.5">←</text></g>
<g id="k16-8" transform="translate(448,842)"><use href="#e" class="p"/><text class="a aw" y="7.5">←</text></g>
<g id="k16-9" transform="translate(500,842)"><use href="#e" class="w"/><text class="a" y="7.5">←</text></g>
<g id="k16-10" transform="translate(552,842)"><use href="#e" class="w"/><text class="a" y="7.5">←</text></g>
<g id="k16-11" transform="translate(604,842)"><use href="#e" class="w"/><text class="a" y="7.5">←</text></g>
<g id="k16-12" transform="translate(656,842)"><use href="#e" class="w"/><text class="a" y="7.5">←</text></g>
<g id="k16-13" transform="translate(708,842)"><use href="#e" class="w"/><text class="a" y="7.5">←</text></g>
<g id="k16-14" transform="translate(760,842)"><use href="#e" class="w"/><text class="a" y="7.5">←</text></g>

<g id="k17-1" transform="translate(84,894)"><use href="#e" class="w"/><text class="a" y="7.5">→</text></g>
<g id="k17-2" transform="translate(136,894)"><use href="#e" class="w"/><text class="a" y="7.5">→</text></g>
<g id="k17-3" transform="translate(188,894)"><use href="#e" class="w"/><text class="a" y="7.5">→</text></g>
<g id="k17-4" transform="translate(240,894)"><use href="#e" class="w"/><text class="a" y="7.5">→</text></g>
<g id="k17-5" transform="translate(292,894)"><use href="#e" class="w"/><text class="a" y="7.5">→</text></g>
<g id="k17-6" transform="translate(344,894)"><use href="#e" class="p"/><text class="a aw" y="7.5">→</text></g>
<g id="k17-7" transform="translate(396,894)"><use href="#e" class="g"/><text class="a aw" y="7.5">→</text></g>
<g id="k17-8" transform="translate(448,894)"><use href="#e" class="g"/><text class="a aw" y="7.5">→</text></g>
<g id="k17-9" transform="translate(500,894)"><use href="#e" class="p"/><text class="a" y="7.5">→</text></g>
<g id="k17-10" transform="translate(552,894)"><use href="#e" class="w"/><text class="a" y="7.5">→</text></g>
<g id="k17-11" transform="translate(604,894)"><use href="#e" class="w"/><text class="a" y="7.5">→</text></g>
<g id="k17-12" transform="translate(656,894)"><use href="#e" class="w"/><text class="a" y="7.5">→</text></g>
<g id="k17-13" transform="translate(708,894)"><use href="#e" class="w"/><text class="a" y="7.5">→</text></g>
<g id="k17-14" transform="translate(760,894)"><use href="#e" class="w"/><text class="a" y="7.5">→</text></g>

<g id="k18-1" transform="translate(84,946)"><use href="#e" class="w"/><text class="a" y="7.5">←</text></g>
<g id="k18-2" transform="translate(136,946)"><use href="#e" class="w"/><text class="a" y="7.5">←</text></g>
<g id="k18-3" transform="translate(188,946)"><use href="#e" class="w"/><text class="a" y="7.5">←</text></g>
<g id="k18-4" transform="translate(240,946)"><use href="#e" class="w"/><text class="a" y="7.5">←</text></g>
<g id="k18-5" transform="translate(292,946)"><use href="#e" class="p"/><text class="a aw" y="7.5">←</text></g>
<g id="k18-6" transform="translate(344,946)"><use href="#e" class="w"/><text class="a" y="7.5">←</text></g>
<g id="k18-7" transform="translate(396,946)"><use href="#e" class="g"/><text class="a aw" y="7.5">←</text></g>
<g id="k18-8" transform="translate(448,946)"><use href="#e" class="g"/><text class="a aw" y="7.5">←</text></g>
<g id="k18-9" transform="translate(500,946)"><use href="#e" class="w"/><text class="a" y="7.5">←</text></g>
<g id="k18-10" transform="translate(552,946)"><use href="#e" class="p"/><text class="a aw" y="7.5">←</text></g>
<g id="k18-11" transform="translate(604,946)"><use href="#e" class="w"/><text class="a" y="7.5">←</text></g>
<g id="k18-12" transform="translate(656,946)"><use href="#e" class="w"/><text class="a" y="7.5">←</text></g>
<g id="k18-13" transform="translate(708,946)"><use href="#e" class="w"/><text class="a" y="7.5">←</text></g>
<g id="k18-14" transform="translate(760,946)"><use href="#e" class="w"/><text class="a" y="7.5">←</text></g>

<g id="k19-1" transform="translate(84,998)"><use href="#e" class="w"/><text class="a" y="7.5">→</text></g>
<g id="k19-2" transform="translate(136,998)"><use href="#e" class="w"/><text class="a" y="7.5">→</text></g>
<g id="k19-3" transform="translate(188,998)"><use href="#e" class="w"/><text class="a" y="7.5">→</text></g>
<g id="k19-4" transform="translate(240,998)"><use href="#e" class="p"/><text class="a aw" y="7.5">→</text></g>
<g id="k19-5" transform="translate(292,998)"><use href="#e" class="w"/><text class="a" y="7.5">→</text></g>
<g id="k19-6" transform="translate(344,998)"><use href="#e" class="w"/><text class="a" y="7.5">→</text></g>
<g id="k19-7" transform="translate(396,998)"><use href="#e" class="g"/><text class="a aw" y="7.5">→</text></g>
<g id="k19-8" transform="translate(448,998)"><use href="#e" class="g"/><text class="a aw" y="7.5">→</text></g>
<g id="k19-9" transform="translate(500,998)"><use href="#e" class="w"/><text class="a" y="7.5">→</text></g>
<g id="k19-10" transform="translate(552,998)"><use href="#e" class="w"/><text class="a" y="7.5">→</text></g>
<g id="k19-11" transform="translate(604,998)"><use href="#e" class="p"/><text class="a aw" y="7.5">→</text></g>
<g id="k19-12" transform="translate(656,998)"><use href="#e" class="w"/><text class="a" y="7.5">→</text></g>
<g id="k19-13" transform="translate(708,998)"><use href="#e" class="w"/><text class="a" y="7.5">→</text></g>
<g id="k19-14" transform="translate(760,998)"><use href="#e" class="w"/><text class="a" y="7.5">→</text></g>

<g id="k20-1" transform="translate(84,1050)"><use href="#e" class="w"/><text class="a" y="7.5">←</text></g>
<g id="k20-2" transform="translate(136,1050)"><use href="#e" class="w"/><text class="a" y="7.5">←</text></g>
<g id="k20-3" transform="translate(188,1050)"><use href="#e" class="w"/><text class="a" y="7.5">←</text></g>
<g id="k20-4" transform="translate(240,1050)"><use href="#e" class="w"/><text class="a" y="7.5">←</text></g>
<g id="k20-5" transform="translate(292,1050)"><use href="#e" class="w"/><text class="a" y="7.5">←</text></g>
<g id="k20-6" transform="translate(344,1050)"><use href="#e" class="w"/><text class="a" y="7.5">←</text></g>
<g id="k20-7" transform="translate(396,1050)"><use href="#e" class="g"/><text class="a aw" y="7.5">←</text></g>
<g id="k20-8" transform="translate(448,1050)"><use href="#e" class="w"/><text class="a" y="7.5">←</text></g>
<g id="k20-9" transform="translate(500,1050)"><use href="#e" class="g"/><text class="a aw" y="7.5">←</text></g>
<g id="k20-10" transform="translate(552,1050)"><use href="#e" class="w"/><text class="a" y="7.5">←</text></g>
<g id="k20-11" transform="translate(604,1050)"><use href="#e" class="w"/><text class="a" y="7.5">←</text></g>
<g id="k20-12" transform="translate(656,1050)"><use href="#e" class="w"/><text class="a" y="7.5">←</text></g>
<g id="k20-13" transform="translate(708,1050)"><use href="#e" class="w"/><text class="a" y="7.5">←</text></g>
<g id="k20-14" transform="translate(760,1050)"><use href="#e" class="w"/><text class="a" y="7.5">←</text></g>

<g id="k21-1" transform="translate(84,1102)"><use href="#e" class="w"/><text class="a" y="7.5">→</text></g>
<g id="k21-2" transform="translate(136,1102)"><use href="#e" class="w"/><text class="a" y="7.5">→</text></g>
<g id="k21-3" transform="translate(188,1102)"><use href="#e" class="w"/><text class="a" y="7.5">→</text></g>
<g id="k21-4" transform="translate(240,1102)"><use href="#e" class="w"/><text class="a" y="7.5">→</text></g>
<g id="k21-5" transform="translate(292,1102)"><use href="#e" class="w"/><text class="a" y="7.5">→</text></g>
<g id="k21-6" transform="translate(344,1102)"><use href="#e" class="g"/><text class="a aw" y="7.5">→</text></g>
<g id="k21-7" transform="translate(396,1102)"><use href="#e" class="w"/><text class="a" y="7.5">→</text></g>
<g id="k21-8" transform="translate(448,1102)"><use href="#e" class="w"/><text class="a" y="7.5">→</text></g>
<g id="k21-9" transform="translate(500,1102)"><use href="#e" class="w"/><text class="a" y="7.5">→</text></g>
<g id="k21-10" transform="translate(552,1102)"><use href="#e" class="w"/><text class="a" y="7.5">→</text></g>
<g id="k21-11" transform="translate(604,1102)"><use href="#e" class="w"/><text class="a" y="7.5">→</text></g>
<g id="k21-12" transform="translate(656,1102)"><use href="#e" class="w"/><text class="a" y="7.5">→</text></g>
<g id="k21-13" transform="translate(708,1102)"><use href="#e" class="w"/><text class="a" y="7.5">→</text></g>
<g id="k21-14" transform="translate(760,1102)"><use href="#e" class="w"/><text class="a" y="7.5">→</text></g>

<g id="k22-1" transform="translate(84,1154)"><use href="#e" class="w"/><text class="a" y="7.5">←</text></g>
<g id="k22-2" transform="translate(136,1154)"><use href="#e" class="w"/><text class="a" y="7.5">←</text></g>
<g id="k22-3" transform="translate(188,1154)"><use href="#e" class="w"/><text class="a" y="7.5">←</text></g>
<g id="k22-4" transform="translate(240,1154)"><use href="#e" class="w"/><text class="a" y="7.5">←</text></g>
<g id="k22-5" transform="translate(292,1154)"><use href="#e" class="w"/><text class="a" y="7.5">←</text></g>
<g id="k22-6" transform="translate(344,1154)"><use href="#e" class="w"/><text class="a" y="7.5">←</text></g>
<g id="k22-7" transform="translate(396,1154)"><use href="#e" class="w"/><text class="a" y="7.5">←</text></g>
<g id="k22-8" transform="translate(448,1154)"><use href="#e" class="w"/><text class="a" y="7.5">←</text></g>
<g id="k22-9" transform="translate(500,1154)"><use href="#e" class="w"/><text class="a" y="7.5">←</text></g>
<g id="k22-10" transform="translate(552,1154)"><use href="#e" class="w"/><text class="a" y="7.5">←</text></g>
<g id="k22-11" transform="translate(604,1154)"><use href="#e" class="w"/><text class="a" y="7.5">←</text></g>
<g id="k22-12" transform="translate(656,1154)"><use href="#e" class="w"/><text class="a" y="7.5">←</text></g>
<g id="k22-13" transform="translate(708,1154)"><use href="#e" class="w"/><text class="a" y="7.5">←</text></g>
<g id="k22-14" transform="translate(760,1154)"><use href="#e" class="w"/><text class="a" y="7.5">←</text></g>
</g>
<text id="watermark" class="wm" x="422" y="613">BRACELETBOOK.COM</text>
</svg>
